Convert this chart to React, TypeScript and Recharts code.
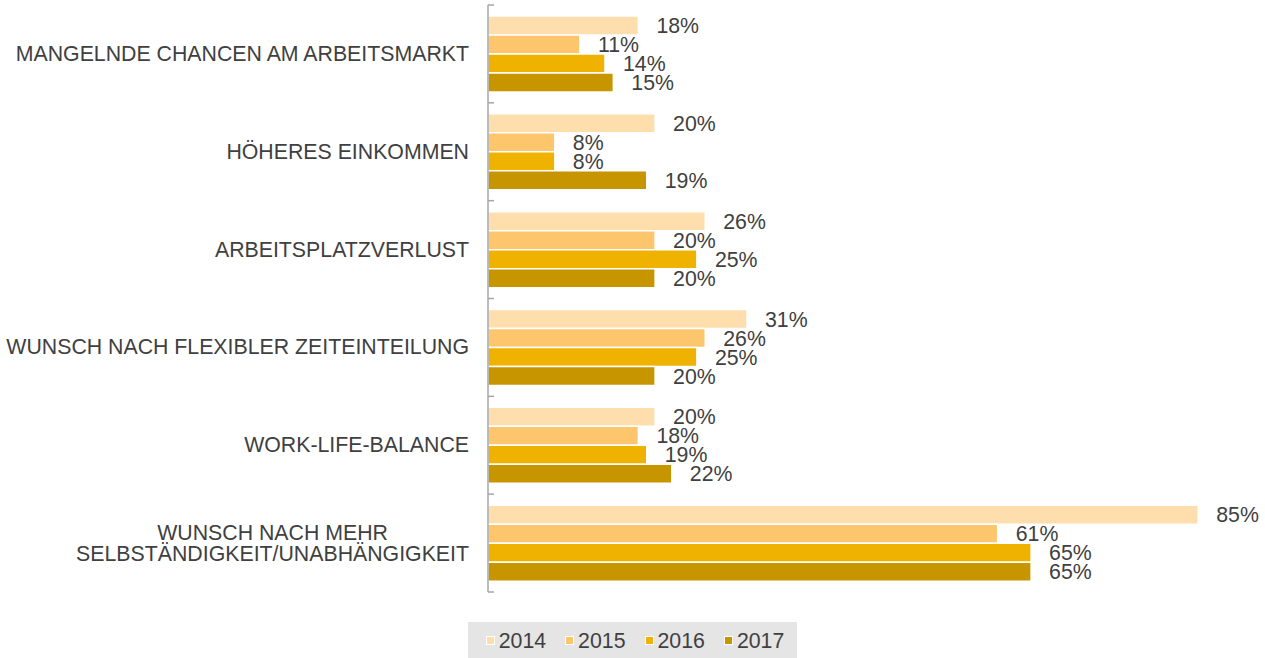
import React from 'react';
import { Bar, BarChart, LabelList, Legend, XAxis, YAxis } from 'recharts';

const categories = [
  'MANGELNDE CHANCEN AM ARBEITSMARKT',
  'HÖHERES EINKOMMEN',
  'ARBEITSPLATZVERLUST',
  'WUNSCH NACH FLEXIBLER ZEITEINTEILUNG',
  'WORK-LIFE-BALANCE',
  'WUNSCH NACH MEHR\nSELBSTÄNDIGKEIT/UNABHÄNGIGKEIT',
];

const years = ['2014', '2015', '2016', '2017'];
const values2014 = [18, 20, 26, 31, 20, 85];
const values2015 = [11, 8, 20, 26, 18, 61];
const values2016 = [14, 8, 25, 25, 19, 65];
const values2017 = [15, 19, 20, 20, 22, 65];
const colors = ['#FDDEAC', '#FEC66C', '#EFB200', '#C79500'];

const WIDTH = 1265;
const HEIGHT = 658;
const AXIS_X = 488;
const TOP = 5;
const RIGHT = 25;
const PLOT_H = 587;
const BAND = PLOT_H / categories.length;
const FONT = "'Liberation Sans', Arial, sans-serif";
const FONT_SIZE = 21.3;
const TEXT = '#404040';

const data = categories.map((name, i) => ({
  name,
  y2014: values2014[i],
  y2015: values2015[i],
  y2016: values2016[i],
  y2017: values2017[i],
}));

let ctx: CanvasRenderingContext2D | null = null;
const measure = (s: string) => {
  if (!ctx) {
    ctx = document.createElement('canvas').getContext('2d');
  }
  if (!ctx) return s.length * 12;
  ctx.font = `${FONT_SIZE}px ${FONT}`;
  return ctx.measureText(s).width;
};

const CategoryTick = (props: any) => {
  const { y, payload, index, visibleTicksCount } = props;
  const lines: string[] = String(payload.value).split('\n');
  const right = AXIS_X - 19;
  const widest = Math.max(...lines.map(measure));
  const startY = y - ((lines.length - 1) * 21) / 2;
  return (
    <g>
      <line x1={AXIS_X} x2={AXIS_X + 6} y1={y - BAND / 2} y2={y - BAND / 2} stroke='#a6a6a6' strokeWidth={1.5} />
      {index === visibleTicksCount - 1 && (
        <line x1={AXIS_X} x2={AXIS_X + 6} y1={y + BAND / 2} y2={y + BAND / 2} stroke='#a6a6a6' strokeWidth={1.5} />
      )}
      {lines.map((line, i) => (
        <text
          key={i}
          x={lines.length > 1 ? right - widest / 2 : right}
          y={startY + i * 21}
          textAnchor={lines.length > 1 ? 'middle' : 'end'}
          dominantBaseline='central'
          fontSize={FONT_SIZE}
          fontFamily={FONT}
          fill={TEXT}
        >
          {line}
        </text>
      ))}
    </g>
  );
};

// legend wrapper spans the chart minus the right margin, so shift it to the page centre
const LegendBox = () => (
  <div style={{ display: 'flex', justifyContent: 'center', paddingTop: 30, paddingLeft: RIGHT }}>
    <div
      style={{
        background: '#e5e5e5',
        height: 36,
        display: 'flex',
        alignItems: 'center',
        paddingLeft: 18,
        paddingRight: 13,
        fontFamily: FONT,
        fontSize: FONT_SIZE,
        color: TEXT,
      }}
    >
      {years.map((year, i) => (
        <div key={year} style={{ display: 'flex', alignItems: 'center', marginRight: i < years.length - 1 ? 19 : 0 }}>
          <span
            style={{
              display: 'inline-block',
              width: 7,
              height: 7,
              background: colors[i],
              border: '1.5px solid #fff',
              marginRight: 4,
            }}
          />
          <span style={{ lineHeight: '22px', paddingTop: 2 }}>{year}</span>
        </div>
      ))}
    </div>
  </div>
);

export default function App() {
  return (
    <div style={{ position: 'absolute', left: 0, top: 0, background: '#fff' }}>
      <BarChart
        width={WIDTH}
        height={HEIGHT}
        data={data}
        layout='vertical'
        margin={{ top: TOP, right: RIGHT, bottom: 0, left: 0 }}
        barCategoryGap={11}
        barGap={0}
      >
        <XAxis type='number' domain={[0, 90]} hide />
        <YAxis
          type='category'
          dataKey='name'
          width={AXIS_X}
          axisLine={{ stroke: '#a6a6a6', strokeWidth: 1.5 }}
          tickLine={false}
          tick={<CategoryTick />}
          interval={0}
        />
        <Legend verticalAlign='bottom' content={<LegendBox />} />
        {years.map((year, i) => (
          <Bar
            key={year}
            dataKey={`y${year}`}
            name={year}
            fill={colors[i]}
            stroke='#fff'
            strokeWidth={1.5}
            isAnimationActive={false}
          >
            <LabelList
              dataKey={`y${year}`}
              position='right'
              offset={18}
              formatter={(v: any) => `${v}%`}
              fill={TEXT}
              fontSize={FONT_SIZE}
              fontFamily={FONT}
            />
          </Bar>
        ))}
      </BarChart>
    </div>
  );
}
